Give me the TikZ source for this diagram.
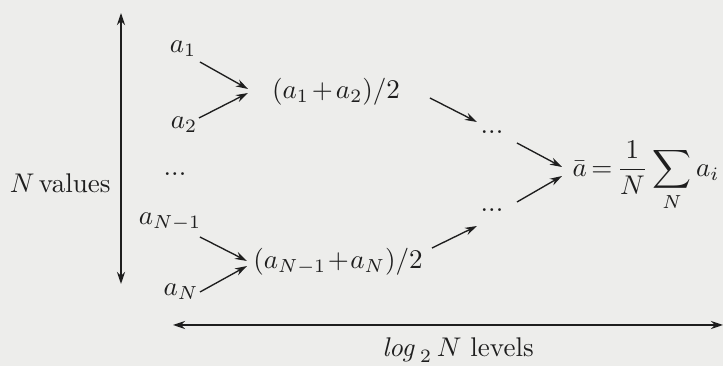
\documentclass[tikz,border=0pt]{standalone}
\usetikzlibrary{arrows.meta}
\definecolor{bgc}{RGB}{237,237,235}
\definecolor{ink}{RGB}{30,30,30}
\begin{document}
\begin{tikzpicture}[x=0.37pt,y=-0.37pt,
  lbl/.style={inner sep=0pt,text=ink},
  arr/.style={draw=ink,line width=0.5pt,-{Stealth[length=4.5pt,width=2.8pt]}},
  dbl/.style={draw=ink,line width=0.55pt,{Stealth[length=4.5pt,width=3pt]}-{Stealth[length=4.5pt,width=3pt]}}]
\fill[bgc] (0,0) rectangle (723,366);
\useasboundingbox (0,0) rectangle (723,366);
% vertical axis
\coordinate (vt) at (121,13);
\coordinate (vb) at (121,284);
\draw[dbl] (vb) -- (vt);
\node[lbl,anchor=east] (nv) at (111,183) {$N$\,values};
% inputs
\node[lbl] (a1) at (183,49) {$a_1$};
\node[lbl] (a2) at (184,125) {$a_2$};
\node[lbl] (ad) at (175,174) {...};
\node[lbl] (an1) at (170,222) {$a_{N-1}$};
\node[lbl] (an) at (181,292) {$a_N$};
% first level
\node[lbl] (s1) at (336,92) {$(a_1\mkern-2mu+\mkern-2mu a_2)/2$};
\node[lbl] (s2) at (338,262) {$(a_{N-1}\mkern-3mu+\mkern-3mu a_N)/2$};
% coordinates for arrow ends
\coordinate (t1) at (248,89);
\coordinate (t2) at (248,93);
\coordinate (t3) at (247,261);
\coordinate (t4) at (247,266);
\draw[arr] (200,62) -- (t1);
\draw[arr] (199,118) -- (t2);
\draw[arr] (200,237) -- (t3);
\draw[arr] (200,292) -- (t4);
% middle dots
\node[lbl] (d1) at (492,132) {...};
\node[lbl] (d2) at (492,210) {...};
\coordinate (u1) at (430,98);
\coordinate (u2) at (477,122);
\coordinate (l1) at (432,248);
\coordinate (l2) at (477,226);
\draw[arr] (u1) -- (u2);
\draw[arr] (l1) -- (l2);
% result
\node[lbl,anchor=west] (res) at (572,176) {$\displaystyle\bar a\mkern-2mu=\mkern-2mu\frac{1}{N}\sum_N a_i$};
\coordinate (r1) at (562,167);
\coordinate (r2) at (562,176);
\draw[arr] (517,143) -- (r1);
\draw[arr] (517,202) -- (r2);
% horizontal axis
\coordinate (hl) at (173,325);
\coordinate (hr) at (723,325);
\draw[dbl] (hl) -- (hr);
\node[lbl] (lv) at (458,350) {$\mathit{log}_{\,2}\,N$ levels};
\end{tikzpicture}
\end{document}
